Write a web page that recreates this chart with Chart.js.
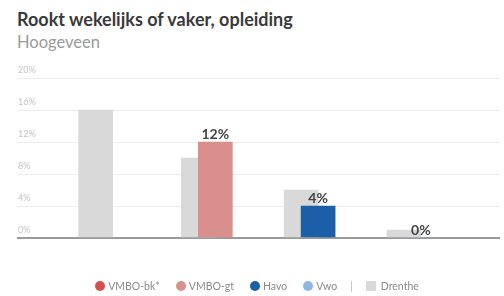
<!DOCTYPE html>
<html>
<head>
<meta charset="utf-8">
<script src="https://cdn.jsdelivr.net/npm/chart.js@4"></script>
<style>
  html, body { margin: 0; padding: 0; background: #fff; }
  body { width: 504px; height: 296px; position: relative; overflow: hidden; font-family: Lato, "Open Sans", sans-serif; }
  #title { position: absolute; left: 17px; top: 8px; font-size: 18px; font-weight: bold; color: #3a3a3a; white-space: nowrap; }
  #subtitle { position: absolute; left: 17px; top: 32px; font-size: 16.5px; color: #9a9a9a; white-space: nowrap; }
  #wrap { position: absolute; left: 0; top: 0; width: 504px; height: 296px; }
  #legend { position: absolute; left: 0; width: 514px; top: 280px; display: flex; justify-content: center; align-items: center; font-size: 10.5px; color: #8a8a8a; }
  .item { display: flex; align-items: center; margin: 0 8px; }
  .dot { width: 10px; height: 10px; border-radius: 50%; margin-right: 3px; }
  .sq { width: 10px; height: 10px; margin-right: 5px; }
  .sep { margin: 0 5px; color: #bbb; }
</style>
</head>
<body>
<div id="title">Rookt wekelijks of vaker, opleiding</div>
<div id="subtitle">Hoogeveen</div>
<div id="wrap"><canvas id="chart" width="504" height="296"></canvas></div>
<div id="legend"></div>
<script>
// categorieën en waarden (in %)
const categories = ['VMBO-bk*', 'VMBO-gt', 'Havo', 'Vwo'];
const hoogeveen = [null, 12, 4, 0];
const drenthe = [16, 10, 6, 1];
const categoryColors = ['#d64f4c', '#d98f8b', '#1b5fa9', '#8fb6de'];
const drentheColor = '#d9d9d9';
const yTicks = [0, 4, 8, 12, 16, 20];

// grijze balk iets naar links verschoven achter de gekleurde balk
const grayShift = 0.165;

const legendEl = document.getElementById('legend');
categories.forEach((name, i) => {
    const item = document.createElement('div');
    item.className = 'item';
    const dot = document.createElement('span');
    dot.className = 'dot';
    dot.style.backgroundColor = categoryColors[i];
    item.appendChild(dot);
    item.appendChild(document.createTextNode(name));
    legendEl.appendChild(item);
});
const sep = document.createElement('span');
sep.className = 'sep';
sep.textContent = '|';
legendEl.appendChild(sep);
const dItem = document.createElement('div');
dItem.className = 'item';
const sq = document.createElement('span');
sq.className = 'sq';
sq.style.backgroundColor = drentheColor;
dItem.appendChild(sq);
dItem.appendChild(document.createTextNode('Drenthe'));
legendEl.appendChild(dItem);

// waardelabels boven de gekleurde balken
const valueLabels = {
    id: 'valueLabels',
    afterDatasetsDraw(chart) {
        const ctx = chart.ctx;
        const meta = chart.getDatasetMeta(1);
        ctx.save();
        ctx.font = 'bold 14px Lato, "Open Sans", sans-serif';
        ctx.fillStyle = '#444';
        ctx.textAlign = 'center';
        ctx.textBaseline = 'bottom';
        meta.data.forEach((bar, i) => {
            const v = hoogeveen[i];
            if (v === null) return;
            ctx.fillText(v + '%', bar.x, bar.y - 1);
        });
        ctx.restore();
    }
};

new Chart(document.getElementById('chart'), {
    type: 'bar',
    data: {
        datasets: [
            {
                label: 'Drenthe',
                data: drenthe.map((v, i) => ({ x: i - grayShift, y: v })),
                backgroundColor: drentheColor,
                order: 2
            },
            {
                label: 'Hoogeveen',
                data: hoogeveen.map((v, i) => ({ x: i, y: v })),
                backgroundColor: categoryColors,
                order: 1
            }
        ]
    },
    options: {
        responsive: false,
        animation: false,
        layout: { padding: { left: 15, right: 4, top: 78, bottom: 58 } },
        datasets: { bar: { barThickness: 34, grouped: false } },
        scales: {
            x: {
                type: 'linear',
                display: false,
                offset: false,
                min: -0.93,
                max: 3.77
            },
            y: {
                min: 0,
                max: 20,
                afterBuildTicks: axis => { axis.ticks = yTicks.map(v => ({ value: v })); },
                border: { display: false },
                grid: {
                    drawTicks: false,
                    color: c => c.tick && c.tick.value === 0 ? '#9a9a9a' : '#ececec',
                    lineWidth: c => c.tick && c.tick.value === 0 ? 2 : 1
                },
                ticks: {
                    mirror: true,
                    padding: 1,
                    labelOffset: -8,
                    color: '#c4c4c4',
                    font: { size: 9, family: 'Lato, "Open Sans", sans-serif' },
                    callback: v => v + '%'
                }
            }
        },
        plugins: {
            legend: { display: false },
            tooltip: { enabled: false }
        }
    },
    plugins: [valueLabels]
});
</script>
</body>
</html>
